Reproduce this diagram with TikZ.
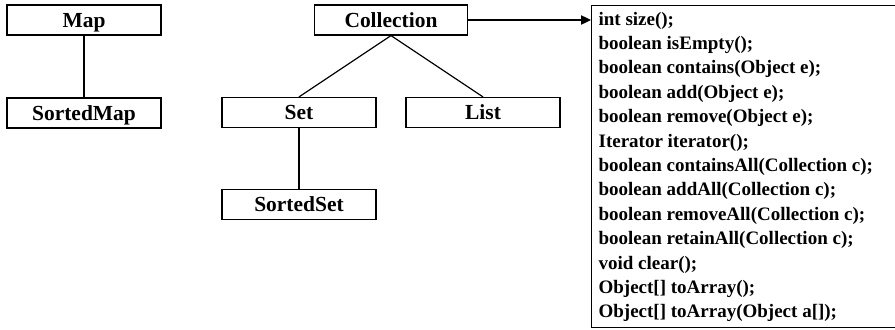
\documentclass[tikz,border=0pt]{standalone}
\usepackage{fontspec}
\setmainfont{Liberation Serif}
\usetikzlibrary{arrows.meta}
\begin{document}
\begin{tikzpicture}[x=0.75pt,y=-0.75pt,
  line width=0.9pt,
  iface/.style={draw, rectangle, inner sep=0pt, minimum width=154*0.75pt,
    minimum height=30*0.75pt, font=\fontsize{16.1}{19}\selectfont\bfseries,
    text height=10.5pt, text depth=0pt},
  member/.style={anchor=base west, inner sep=0pt,
    font=\fontsize{14.25}{18}\selectfont\bfseries},
  link/.style={draw}]
\useasboundingbox (0,0) rectangle (895,329);

% hierarchy boxes
\node[iface] (map)       at (84,20)    {Map};
\node[iface] (sortedmap) at (84,113)   {SortedMap};
\node[iface, minimum width=153*0.75pt] (coll) at (391,20) {Collection};
\node[iface] (set)       at (299,112.5) {Set};
\node[iface] (list)      at (483,112.5) {List};
\node[iface] (sortedset) at (299,204.5) {SortedSet};

% inheritance links
\draw[link] (map) -- (sortedmap);
\draw[link] (coll.south) -- (set.north);
\draw[link] (coll.south) -- (list.north);
\draw[link] (set) -- (sortedset);

% method listing of Collection
\node[draw, rectangle, inner sep=0pt, anchor=north west,
      minimum width=306*0.75pt, minimum height=322*0.75pt] (ops) at (591,5) {};
\foreach \m [count=\i from 0] in {
  int size();,
  boolean isEmpty();,
  boolean contains(Object e);,
  boolean add(Object e);,
  boolean remove(Object e);,
  Iterator iterator();,
  boolean containsAll(Collection c);,
  boolean addAll(Collection c);,
  boolean removeAll(Collection c);,
  boolean retainAll(Collection c);,
  void clear();,
  {Object[] toArray();},
  {Object[] toArray(Object a[]);}}
  \node[member] (op\i) at (598,25+24.4*\i) {\m};

\draw[-{Triangle[length=7.5pt,width=7pt]}] (coll.east) -- (coll.east -| ops.west);
\end{tikzpicture}
\end{document}
